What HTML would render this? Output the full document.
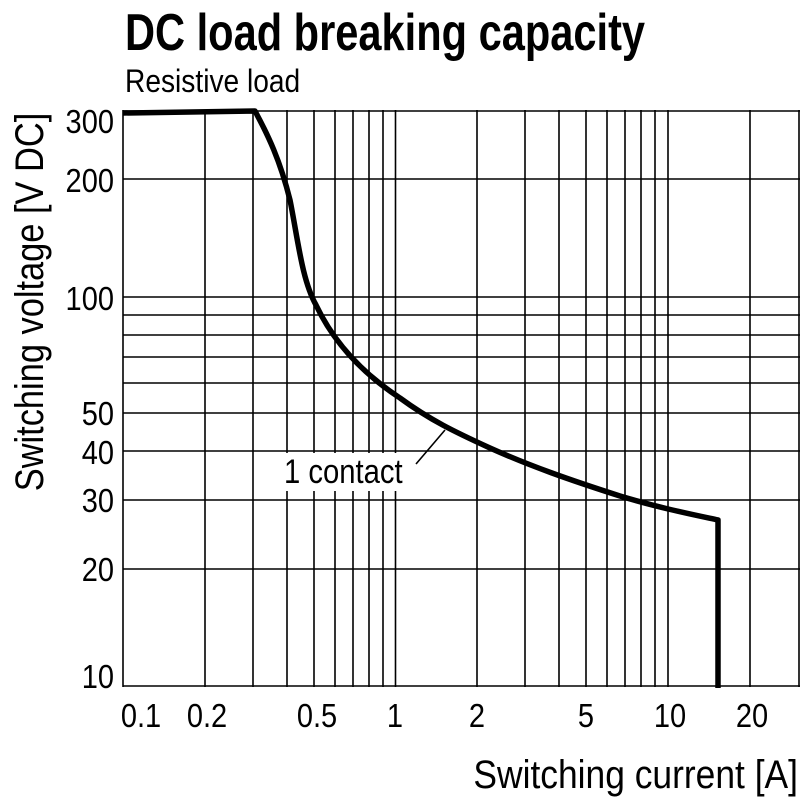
<!DOCTYPE html>
<html><head><meta charset="utf-8"><style>
html,body{margin:0;padding:0;background:#fff;width:800px;height:800px;overflow:hidden}
svg{display:block}
text{font-family:"Liberation Sans",sans-serif;fill:#000}
</style></head><body>
<svg width="800" height="800" viewBox="0 0 800 800">
<g transform="translate(125,50) scale(0.8,1)"><text x="0" y="0" font-size="52" font-weight="bold">DC load breaking capacity</text></g>
<g transform="translate(125,92) scale(0.88,1)"><text x="0" y="0" font-size="32">Resistive load</text></g>
<g stroke="#000" stroke-width="1.6" fill="none">
<line x1="123" y1="110" x2="123" y2="687"/>
<line x1="205" y1="110" x2="205" y2="687"/>
<line x1="253" y1="110" x2="253" y2="687"/>
<line x1="287" y1="110" x2="287" y2="687"/>
<line x1="314" y1="110" x2="314" y2="687"/>
<line x1="335" y1="110" x2="335" y2="687"/>
<line x1="353" y1="110" x2="353" y2="687"/>
<line x1="369" y1="110" x2="369" y2="687"/>
<line x1="383" y1="110" x2="383" y2="687"/>
<line x1="395.5" y1="110" x2="395.5" y2="687"/>
<line x1="477" y1="110" x2="477" y2="687"/>
<line x1="525" y1="110" x2="525" y2="687"/>
<line x1="559" y1="110" x2="559" y2="687"/>
<line x1="586" y1="110" x2="586" y2="687"/>
<line x1="607" y1="110" x2="607" y2="687"/>
<line x1="625" y1="110" x2="625" y2="687"/>
<line x1="641" y1="110" x2="641" y2="687"/>
<line x1="655" y1="110" x2="655" y2="687"/>
<line x1="668" y1="110" x2="668" y2="687"/>
<line x1="750" y1="110" x2="750" y2="687"/>
<line x1="799" y1="110" x2="799" y2="687"/>
<line x1="123" y1="111" x2="800" y2="111"/>
<line x1="123" y1="179" x2="800" y2="179"/>
<line x1="123" y1="297" x2="800" y2="297"/>
<line x1="123" y1="315" x2="800" y2="315"/>
<line x1="123" y1="335" x2="800" y2="335"/>
<line x1="123" y1="357" x2="800" y2="357"/>
<line x1="123" y1="383" x2="800" y2="383"/>
<line x1="123" y1="413" x2="800" y2="413"/>
<line x1="123" y1="451" x2="800" y2="451"/>
<line x1="123" y1="500" x2="800" y2="500"/>
<line x1="123" y1="569" x2="800" y2="569"/>
<line x1="123" y1="686" x2="800" y2="686"/>
</g>
<rect x="280" y="453" width="127" height="38" fill="#fff"/>
<path d="M123,113 L255,111 C268,135 280,160 290,200 C298,240 302,280 316,305 C335,345 365,375 400,398 C430,420 455,432 490,448 C530,466 570,480 620,496 C660,508 690,514 718,520 L718,688" stroke="#000" stroke-width="5.5" fill="none" stroke-linejoin="round"/>
<line x1="416" y1="464" x2="445" y2="430" stroke="#000" stroke-width="1.6"/>
<g transform="translate(284,483) scale(0.86,1)"><text font-size="34">1 contact</text></g>
<g font-size="33" text-anchor="end">
<g transform="translate(114,133) scale(0.88,1)"><text>300</text></g>
<g transform="translate(114,192) scale(0.88,1)"><text>200</text></g>
<g transform="translate(114,310) scale(0.88,1)"><text>100</text></g>
<g transform="translate(114,425) scale(0.88,1)"><text>50</text></g>
<g transform="translate(114,464) scale(0.88,1)"><text>40</text></g>
<g transform="translate(114,512) scale(0.88,1)"><text>30</text></g>
<g transform="translate(114,581) scale(0.88,1)"><text>20</text></g>
<g transform="translate(114,688) scale(0.88,1)"><text>10</text></g>
</g>
<g font-size="33" text-anchor="middle">
<g transform="translate(141,727) scale(0.88,1)"><text>0.1</text></g>
<g transform="translate(207,727) scale(0.88,1)"><text>0.2</text></g>
<g transform="translate(317,727) scale(0.88,1)"><text>0.5</text></g>
<g transform="translate(395,727) scale(0.88,1)"><text>1</text></g>
<g transform="translate(477,727) scale(0.88,1)"><text>2</text></g>
<g transform="translate(586,727) scale(0.88,1)"><text>5</text></g>
<g transform="translate(670,727) scale(0.88,1)"><text>10</text></g>
<g transform="translate(752,727) scale(0.88,1)"><text>20</text></g>
</g>
<g transform="translate(798,788) scale(0.885,1)"><text font-size="40" text-anchor="end">Switching current [A]</text></g>
<g transform="translate(43,302) rotate(-90) scale(0.86,1)"><text font-size="40" text-anchor="middle">Switching voltage [V DC]</text></g>
</svg>
</body></html>
